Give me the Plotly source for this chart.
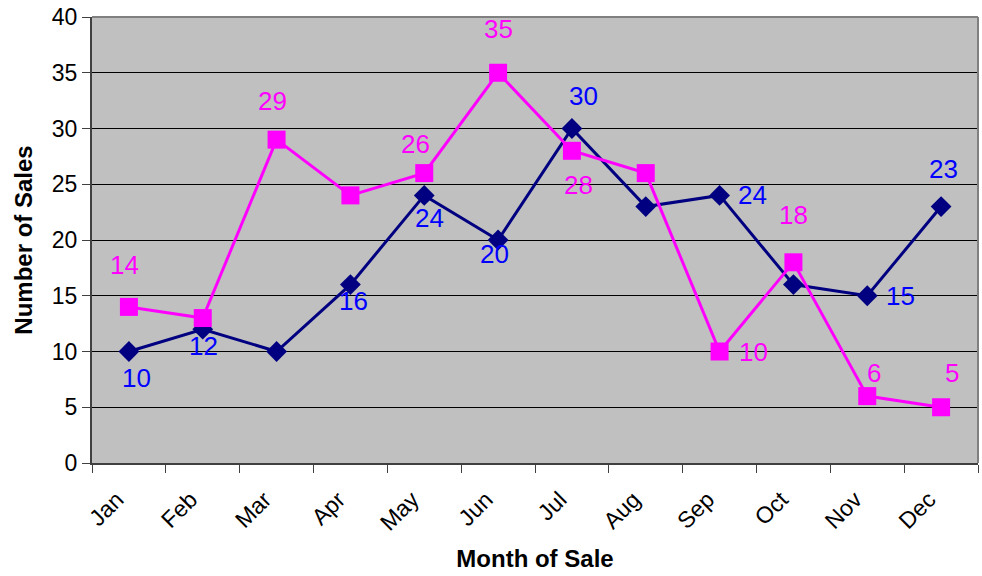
import plotly.graph_objects as go

months = ["Jan", "Feb", "Mar", "Apr", "May", "Jun", "Jul", "Aug", "Sep", "Oct", "Nov", "Dec"]
navy_values = [10, 12, 10, 16, 24, 20, 30, 23, 24, 16, 15, 23]
magenta_values = [14, 13, 29, 24, 26, 35, 28, 26, 10, 18, 6, 5]

# which points carry a data label, and where the label sits (pixel offsets, x right / y down)
navy_labeled = [True, True, False, True, True, True, True, False, True, False, True, True]
navy_offsets = [(8, 26), (1, 17), None, (3, 16), (5, 23), (-4, 14), (12, -33), None, (33, 0), None, (33, 0), (2, -38)]
magenta_labeled = [True, False, True, False, True, True, True, False, True, True, True, True]
magenta_offsets = [(-4, -42), None, (-4, -39), None, (-9, -29), (0, -44), (7, 34), None, (34, 0), (0, -47), (7, -23), (11, -34)]

NAVY = "#000080"
MAGENTA = "#FF00FF"
LABEL_BLUE = "#0000FF"
FONT = "Arial, 'Liberation Sans', sans-serif"

fig = go.Figure()
fig.add_trace(go.Scatter(
    x=months, y=navy_values, mode="lines+markers",
    line=dict(color=NAVY, width=3),
    marker=dict(symbol="diamond", size=16, color=NAVY),
    showlegend=False, cliponaxis=False,
))
fig.add_trace(go.Scatter(
    x=months, y=magenta_values, mode="lines+markers",
    line=dict(color=MAGENTA, width=3),
    marker=dict(symbol="square", size=18, color=MAGENTA),
    showlegend=False, cliponaxis=False,
))

annotations = []
for vals, flags, offs, col in [
    (navy_values, navy_labeled, navy_offsets, LABEL_BLUE),
    (magenta_values, magenta_labeled, magenta_offsets, MAGENTA),
]:
    for m, v, f, o in zip(months, vals, flags, offs):
        if not f:
            continue
        annotations.append(dict(
            x=m, y=v, xref="x", yref="y", text=str(v), showarrow=False,
            xanchor="center", yanchor="middle", xshift=o[0], yshift=-o[1],
            font=dict(family=FONT, size=26, color=col),
        ))

fig.update_layout(
    width=982, height=576,
    margin=dict(l=92, r=4, t=17, b=113),
    paper_bgcolor="white", plot_bgcolor="#C0C0C0",
    font=dict(family=FONT, color="black"),
    annotations=annotations,
    shapes=[
        dict(type="line", xref="paper", yref="paper", x0=0, x1=1, y0=1, y1=1,
             line=dict(color="#808080", width=2), layer="above"),
        dict(type="line", xref="paper", yref="paper", x0=1, x1=1, y0=0, y1=1,
             line=dict(color="#808080", width=2), layer="above"),
    ],
    xaxis=dict(
        type="category", categoryorder="array", categoryarray=months,
        range=[-0.5, 11.5], tickson="boundaries",
        ticks="outside", ticklen=8, tickcolor="#404040", tickwidth=1,
        showline=True, linecolor="#404040", linewidth=2,
        showgrid=False, tickangle=-45,
        ticklabelstandoff=12, ticklabelshift=-12,
        tickfont=dict(family=FONT, size=23, color="black"),
        title=dict(text="<b>Month of Sale</b>", font=dict(family=FONT, size=24, color="black"), standoff=16),
    ),
    yaxis=dict(
        range=[0, 40], tickvals=[0, 5, 10, 15, 20, 25, 30, 35, 40],
        ticks="outside", ticklen=8, tickcolor="#404040", tickwidth=1,
        showline=True, linecolor="#404040", linewidth=2,
        showgrid=True, gridcolor="black", gridwidth=1, zeroline=False,
        tickfont=dict(family=FONT, size=23, color="black"),
        title=dict(text="<b>Number of Sales</b>", font=dict(family=FONT, size=24, color="black"), standoff=12),
    ),
)

fig.write_html("out.html")
